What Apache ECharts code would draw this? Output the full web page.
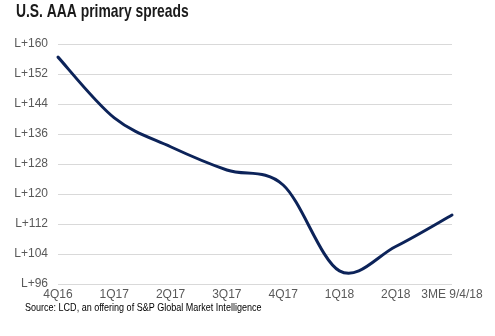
<!DOCTYPE html>
<html>
<head>
<meta charset="utf-8">
<script src="https://cdn.jsdelivr.net/npm/echarts@6/dist/echarts.min.js"></script>
<style>
  html, body { margin: 0; padding: 0; background: #fff; }
  #chart { width: 495px; height: 336px; }
</style>
</head>
<body>
<div id="chart"></div>
<script>
// Quarterly AAA primary spreads over LIBOR (bps)
const quarters = ['4Q16', '1Q17', '2Q17', '3Q17', '4Q17', '1Q18', '2Q18', '3ME 9/4/18'];
const spreads = [156.5, 140.3, 132.6, 126.4, 122.4, 99.5, 106.0, 114.4];
const yTicks = [96, 104, 112, 120, 128, 136, 144, 152, 160];

const sans = "'Liberation Sans', Arial, sans-serif";

// Smooth line through every point (Catmull-Rom style cubic Béziers),
// positioned with the chart's own coordinate system.
function renderSmoothLine(params, api) {
  if (params.dataIndex !== 0) return;
  const pts = spreads.map((v, i) => api.coord([i, v]));
  const n = pts.length;
  let d = 'M' + pts[0][0] + ' ' + pts[0][1];
  for (let i = 0; i < n - 1; i++) {
    const p0 = pts[Math.max(i - 1, 0)];
    const p1 = pts[i];
    const p2 = pts[i + 1];
    const p3 = pts[Math.min(i + 2, n - 1)];
    const c1x = p1[0] + (p2[0] - p0[0]) / 6;
    const c1y = p1[1] + (p2[1] - p0[1]) / 6;
    const c2x = p2[0] - (p3[0] - p1[0]) / 6;
    const c2y = p2[1] - (p3[1] - p1[1]) / 6;
    d += ' C' + c1x + ' ' + c1y + ' ' + c2x + ' ' + c2y + ' ' + p2[0] + ' ' + p2[1];
  }
  return {
    type: 'path',
    shape: { pathData: d },
    style: { fill: null, stroke: '#0c2359', lineWidth: 3, lineJoin: 'round', lineCap: 'round' }
  };
}

const chart = echarts.init(document.getElementById('chart'), null, { renderer: 'canvas' });
chart.setOption({
  animation: false,
  backgroundColor: '#fff',
  graphic: [
    {
      // chart title, horizontally condensed
      type: 'text',
      x: 16, y: 2,
      scaleX: 0.73,
      originX: 0,
      style: {
        text: 'U.S. AAA primary spreads',
        font: "bold 19px 'Liberation Sans', Arial, sans-serif",
        fill: '#1a1a1a'
      }
    },
    {
      type: 'text',
      x: 25, y: 302,
      scaleX: 0.82,
      originX: 0,
      style: {
        text: 'Source: LCD, an offering of S&P Global Market Intelligence',
        font: "11px 'Liberation Sans', Arial, sans-serif",
        fill: '#000'
      }
    }
  ],
  grid: { left: 58, right: 43, top: 44, bottom: 52, containLabel: false },
  xAxis: {
    type: 'category',
    data: quarters,
    boundaryGap: false,
    axisLine: { show: false },
    axisTick: { show: false },
    axisLabel: { color: '#595959', fontFamily: sans, fontSize: 12, margin: 5, interval: 0 }
  },
  yAxis: {
    type: 'value',
    min: yTicks[0],
    max: yTicks[yTicks.length - 1],
    interval: 8,
    axisLine: { show: false },
    axisTick: { show: false },
    splitLine: { lineStyle: { color: '#d9d9d9', width: 1 } },
    axisLabel: {
      color: '#595959', fontFamily: sans, fontSize: 12, margin: 10,
      formatter: v => 'L+' + v
    }
  },
  series: [{
    type: 'custom',
    data: spreads.map((v, i) => [i, v]),
    renderItem: renderSmoothLine,
    clip: false
  }]
});
</script>
</body>
</html>
